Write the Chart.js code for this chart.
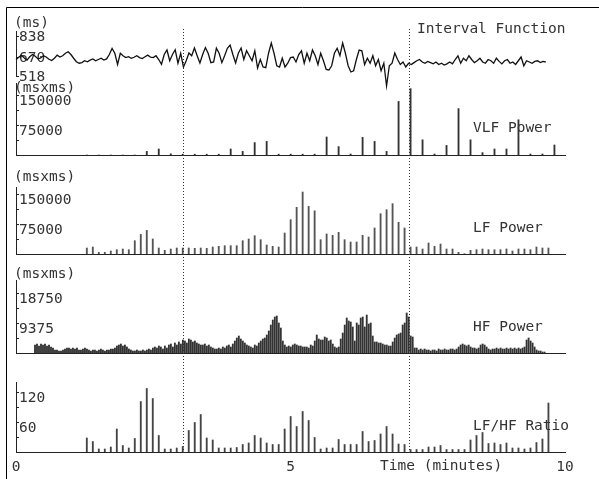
<!DOCTYPE html>
<html>
<head>
<meta charset="utf-8">
<script src="https://cdn.jsdelivr.net/npm/chart.js@4.4.1/dist/chart.umd.min.js"></script>
<style>
  html, body { margin: 0; padding: 0; background: #fff; }
  #wrap { position: relative; width: 599px; height: 479px; }
  #wrap canvas { position: absolute; left: 0; top: 0; }
</style>
</head>
<body>
<div id="wrap">
  <canvas id="interval" width="599" height="479"></canvas>
  <canvas id="vlf" width="599" height="479"></canvas>
  <canvas id="lf" width="599" height="479"></canvas>
  <canvas id="hf" width="599" height="479"></canvas>
  <canvas id="ratio" width="599" height="479"></canvas>
</div>
<script>
// interval function, one sample every 0.05 min
const intervalStep = 0.05;
const intervalMs = [
  650, 668, 685, 662, 645, 672, 690, 676, 655, 662,
  680, 670, 652, 642, 660, 685, 670, 680, 700, 712,
  690, 660, 632, 620, 625, 640, 632, 645, 655, 640,
  650, 660, 645, 655, 690, 738, 700, 610, 700, 680,
  665, 672, 660, 668, 680, 665, 658, 672, 685, 668,
  665, 680, 650, 612, 690, 726, 640, 690, 728, 620,
  700, 590, 640, 702, 680, 742, 680, 622, 690, 745,
  700, 625, 630, 740, 700, 625, 680, 740, 766, 690,
  622, 700, 742, 650, 720, 680, 640, 720, 582, 650,
  590, 585, 700, 782, 700, 600, 590, 660, 590, 620,
  665, 670, 630, 690, 720, 620, 700, 640, 726, 680,
  610, 700, 640, 570, 566, 600, 700, 740, 680, 782,
  700, 600, 550, 560, 650, 726, 720, 610, 660, 620,
  680, 600, 650, 560, 620, 438, 600, 620, 702, 650,
  610, 630, 590, 620, 610, 625, 640, 650, 630, 620,
  635, 625, 615, 630, 610, 620, 605, 615, 630, 615,
  650, 680, 620, 660, 640, 680, 650, 625, 640, 660,
  630, 620, 650, 640, 620, 660, 635, 615, 640, 650,
  620, 630, 610, 640, 670, 600, 640, 630, 620, 635,
  640, 625, 635, 630
];

// spectral windows (minutes)
const windowStart = 1.29;
const windowStep = 0.1092;
const vlfStep = 0.2184;
const hfStart = 0.346;
const hfStep = 0.0364;

const vlfPower = [
  0, 0, 0, 0, 0, 9000, 15000, 3000, 2000, 2000,
  2000, 2000, 15000, 9000, 31000, 34000, 2000, 2000, 2000, 2000,
  45000, 21000, 2500, 44000, 34000, 9000, 134000, 166000, 38000, 2500,
  24000, 116000, 38000, 6000, 15000, 15000, 88000, 2500, 2500, 25000
];

const lfPower = [
  15000, 17500, 4200, 4200, 7500, 10800, 12500, 10800, 33300, 49000,
  59000, 37500, 15000, 9200, 12500, 15000, 15000, 15000, 14200, 15000,
  14200, 17500, 19200, 20800, 20800, 20800, 33300, 37500, 45800, 35800,
  22500, 19200, 17500, 52500, 85800, 116700,
  155000, 119000, 108000, 35800, 50000, 46700, 54200, 35800, 30000, 30000,
  46700, 42500, 65000, 100800, 110800, 125800, 79200, 65000, 17500, 17500,
  12500, 27500, 19200, 25000, 12500, 12500, 4200, 800, 9200, 10800,
  12500, 10800, 10800, 10800, 12500, 7500, 12500, 12500, 10800, 17500,
  15000, 15000
];

const hfPower = [
  2500, 2810, 2190, 2810, 2500, 2810, 2190, 2500, 1880, 1560,
  940, 940, 630, 630, 940, 1250, 1560, 1560, 1250, 1560,
  1250, 1560, 940, 940, 1250, 1560, 1250, 940, 630, 940,
  940, 630, 940, 1250, 940, 630, 940, 940, 1250, 1250,
  1560, 2190, 2500, 2810, 2190, 2500, 1880, 1250, 940, 630,
  630, 940, 630, 630, 940, 630, 940, 1250, 940, 1560,
  1880, 1560, 2190, 1880, 1250, 2190, 1560, 2500, 2810, 1880,
  3130, 2500, 3440, 2810, 4060, 3750, 3130, 4380, 4060, 3440,
  3750, 3130, 2810, 2500, 2500, 2810, 2190, 2500, 1880, 1560,
  1250, 1250, 1560, 1250, 1880, 1560, 2190, 2500, 1880, 2810,
  3750, 4690, 5310, 4380, 3750, 3130, 2500, 2190, 1880, 1560,
  2500, 2190, 3130, 3750, 4380, 4690, 5630, 6880, 8750, 10310,
  11250, 11560, 9380, 7810, 3750, 2500, 1880, 2190, 1880, 2500,
  2810, 2500, 2190, 2190, 1880, 1880, 1880, 1560, 2500, 2190,
  3750, 5630, 4380, 4060, 4060, 5000, 4690, 3750, 4060, 2810,
  1880, 1560, 1880, 4380, 6250, 8750, 10940, 10000, 9690, 8130,
  3750, 9380, 8750, 10940, 11250, 8130, 11880, 9060, 9380, 5310,
  3440, 3440, 3130, 3130, 2810, 2500, 2500, 2190, 2190, 3440,
  4690, 5630, 5940, 6250, 8750, 9380, 12500, 11250, 5310, 5000,
  1560, 1560, 940, 1250, 940, 1250, 940, 940, 630, 940,
  940, 630, 1250, 940, 940, 1250, 940, 940, 1250, 1250,
  940, 1250, 1880, 2500, 2810, 2500, 2190, 2500, 1880, 1560,
  1560, 1250, 1560, 2500, 2810, 2500, 1880, 1250, 940, 1250,
  1250, 1560, 1250, 1560, 1250, 1250, 1560, 1250, 1560, 1250,
  1560, 1250, 1560, 1250, 1560, 1880, 4060, 4690, 3750, 3130,
  1880, 940, 630, 630, 310, 310
];

const lfhfRatio = [
  28, 21, 6, 6, 10, 46, 13, 8, 27, 101,
  127, 107, 33, 6, 6, 8, 11, 43, 59, 75,
  28, 24, 8, 8, 8, 9, 15, 18, 33, 28,
  18, 15, 15, 46, 71, 51,
  81, 63, 29, 6, 8, 8, 25, 15, 15, 15,
  41, 21, 23, 36, 51, 36, 16, 15, 5, 5,
  5, 10, 10, 13, 5, 5, 5, 5, 24, 33,
  39, 17, 18, 15, 18, 8, 8, 6, 8, 19,
  26, 98
];

const markerTimes = [3.05, 7.15];
const xTickValues = [0, 5, 10];
const intervalTicks = [518, 670, 838];
const powerTicks = [37500, 75000, 112500, 150000];
const powerLabels = [75000, 150000];
const hfTicks = [4687.5, 9375, 14062.5, 18750];
const hfLabels = [9375, 18750];
const ratioTicks = [30, 60, 90, 120];
const ratioLabels = [60, 120];

const INK = '#333';
const FONT = { family: "'DejaVu Sans Mono', monospace", size: 14.5 };
const FONT_CSS = "14.5px 'DejaVu Sans Mono', monospace";

function points(start, step, values) {
  return values.map((v, i) => ({ x: start + i * step, y: v }));
}

// free text of a panel: its unit and its name
function panelText(items) {
  return {
    id: 'panelText',
    afterDraw(chart) {
      const ctx = chart.ctx;
      ctx.save();
      ctx.font = FONT_CSS;
      ctx.fillStyle = INK;
      ctx.textBaseline = 'middle';
      ctx.textAlign = 'left';
      items.forEach(([t, x, y]) => ctx.fillText(t, x, y));
      ctx.restore();
    }
  };
}

const frameAndMarkers = {
  id: 'frameAndMarkers',
  afterDraw(chart) {
    const ctx = chart.ctx;
    const xs = chart.scales.x;
    ctx.save();
    ctx.strokeStyle = '#000';
    ctx.lineWidth = 1;
    ctx.beginPath();
    ctx.moveTo(6.5, 479);
    ctx.lineTo(6.5, 7.5);
    ctx.lineTo(599, 7.5);
    ctx.stroke();
    ctx.strokeStyle = '#333';
    ctx.setLineDash([1, 2]);
    markerTimes.forEach(t => {
      const px = Math.round(xs.getPixelForValue(t)) + 0.5;
      ctx.beginPath();
      ctx.moveTo(px, 29);
      ctx.lineTo(px, 455);
      ctx.stroke();
    });
    ctx.restore();
  }
};

function panel(id, cfg) {
  return new Chart(document.getElementById(id), {
    type: cfg.type,
    data: { datasets: cfg.datasets },
    options: {
      responsive: false,
      animation: false,
      devicePixelRatio: 1,
      layout: { padding: { top: cfg.top, bottom: cfg.bottom, left: 0, right: 34 } },
      plugins: { legend: { display: false }, tooltip: { enabled: false } },
      scales: {
        x: {
          type: 'linear',
          min: 0,
          max: 10,
          offset: false,
          display: cfg.xDisplay,
          afterFit: s => { s.height = cfg.xHeight || 0; },
          afterBuildTicks: s => { s.ticks = xTickValues.map(v => ({ value: v })); },
          ticks: { display: !!cfg.xLabels, padding: 7, font: FONT, color: INK, maxRotation: 0 },
          grid: { drawOnChartArea: false, drawTicks: false, offset: false },
          border: { color: '#222', width: 1 }
        },
        y: {
          min: cfg.min,
          max: cfg.max,
          afterFit: s => { s.width = 16; },
          afterBuildTicks: s => { s.ticks = cfg.ticks.map(v => ({ value: v })); },
          ticks: {
            mirror: true,
            padding: 3,
            labelOffset: cfg.labelOffset,
            autoSkip: false,
            font: FONT,
            color: INK,
            callback: v => cfg.labels.includes(v) ? String(v) : ''
          },
          grid: { drawOnChartArea: false, tickLength: -3, color: '#222' },
          border: { color: '#222', width: 1 }
        }
      }
    },
    plugins: cfg.plugins
  });
}

panel('interval', {
  type: 'line',
  top: 31, bottom: 403, min: 518, max: 878,
  xDisplay: false,
  ticks: intervalTicks, labels: intervalTicks, labelOffset: 1,
  datasets: [{
    data: points(0, intervalStep, intervalMs),
    borderColor: '#111', borderWidth: 1.3, pointRadius: 0, tension: 0, clip: false
  }],
  plugins: [panelText([['(ms)', 14, 23], ['Interval Function', 417, 29]])]
});

panel('vlf', {
  type: 'bar',
  top: 83, bottom: 324, min: 0, max: 180000,
  xDisplay: true,
  ticks: powerTicks, labels: powerLabels, labelOffset: 6,
  datasets: [{
    data: points(windowStart, vlfStep, vlfPower),
    backgroundColor: '#333', barThickness: 1.2
  }],
  plugins: [panelText([['(msxms)', 14, 88], ['VLF Power', 473, 128]])]
});

panel('lf', {
  type: 'bar',
  top: 187, bottom: 225, min: 0, max: 167500,
  xDisplay: true,
  ticks: powerTicks, labels: powerLabels, labelOffset: 6,
  datasets: [{
    data: points(windowStart, windowStep, lfPower),
    backgroundColor: '#555', barThickness: 1.2
  }],
  plugins: [panelText([['(msxms)', 14, 177], ['LF Power', 473, 228]])]
});

panel('hf', {
  type: 'bar',
  top: 280, bottom: 126, min: 0, max: 22812.5,
  xDisplay: true,
  ticks: hfTicks, labels: hfLabels, labelOffset: 6,
  datasets: [{
    data: points(hfStart, hfStep, hfPower),
    backgroundColor: '#333', barThickness: 1.2
  }],
  plugins: [panelText([['(msxms)', 14, 274], ['HF Power', 473, 327]])]
});

panel('ratio', {
  type: 'bar',
  top: 382, bottom: 7, min: 0, max: 140,
  xDisplay: true, xHeight: 20, xLabels: true,
  ticks: ratioTicks, labels: ratioLabels, labelOffset: 6,
  datasets: [{
    data: points(windowStart, windowStep, lfhfRatio),
    backgroundColor: '#444', barThickness: 1.2
  }],
  plugins: [panelText([['LF/HF Ratio', 473, 426], ['Time (minutes)', 380, 466]]), frameAndMarkers]
});
</script>
</body>
</html>
